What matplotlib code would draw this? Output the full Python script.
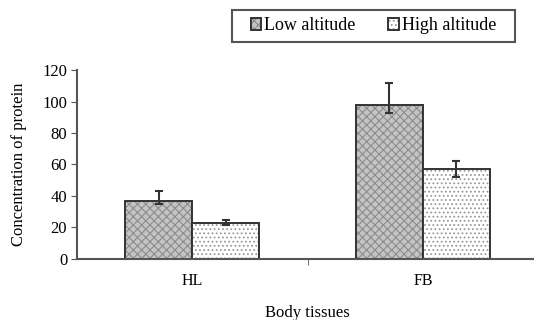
import numpy as np
import matplotlib.pyplot as plt
from matplotlib.patches import Rectangle

plt.rcParams['font.family'] = ['Liberation Serif', 'DejaVu Serif']
plt.rcParams['hatch.linewidth'] = 0.8

tissues = ['HL', 'FB']
series = ['Low altitude', 'High altitude']
low_vals = [37, 98]
high_vals = [23, 57]
low_err = [[2, 5], [6, 14]]      # [below, above]
high_err = [[1.5, 5], [2, 5]]

fig = plt.figure(figsize=(5.34, 3.2), dpi=100)
ax = fig.add_axes([0.144, 0.191, 0.864, 0.590])

x = np.arange(len(tissues))
w = 0.29
b1 = ax.bar(x - w / 2, low_vals, w, color='#c4c4c4', edgecolor='#333333',
            hatch='xxxx', linewidth=1.4, label=series[0])
b2 = ax.bar(x + w / 2, high_vals, w, color='white', edgecolor='#333333',
            hatch='....', linewidth=1.4, label=series[1])
for p in b1.patches:
    p._hatch_color = (0.55, 0.55, 0.55, 1)
for p in b2.patches:
    p._hatch_color = (0.6, 0.6, 0.6, 1)

ax.errorbar(x - w / 2, low_vals, yerr=low_err, fmt='none', ecolor='#333333',
            elinewidth=1.5, capsize=3, capthick=1.5)
ax.errorbar(x + w / 2, high_vals, yerr=high_err, fmt='none', ecolor='#333333',
            elinewidth=1.5, capsize=3, capthick=1.5)

ax.set_xlim(-0.5, 1.5)
ax.set_ylim(0, 120)
ax.set_yticks(range(0, 121, 20))
ax.set_xticks(x)
ax.set_xticklabels(tissues)
ax.set_xticks([0.5, 1.5], minor=True)
ax.tick_params(axis='x', which='major', length=0, pad=10, labelsize=11.5)
ax.tick_params(axis='x', which='minor', length=4, color='#555555')
ax.tick_params(axis='y', length=4, color='#555555', labelsize=12, pad=3)
for s in ['top', 'right']:
    ax.spines[s].set_visible(False)
for s in ['left', 'bottom']:
    ax.spines[s].set_color('#555555')
    ax.spines[s].set_linewidth(1.5)

ax.set_ylabel('Concentration of protein', fontsize=12, labelpad=11)
fig.text(0.575, 0.01, 'Body tissues', ha='center', fontsize=12)

# legend box drawn separately so the entries sit centred with wide margins
fig.patches.append(Rectangle((0.434, 0.869), 0.53, 0.1, transform=fig.transFigure,
                             fill=False, edgecolor='#555555', linewidth=1.5))
fig.legend(handles=[b1, b2], ncol=2, loc='center',
           bbox_to_anchor=(0.699, 0.919), fontsize=13, frameon=False,
           handlelength=0.6, handleheight=0.6, handletextpad=0.15,
           columnspacing=1.8, borderpad=0, borderaxespad=0)

fig.savefig('out.png', dpi=100)
